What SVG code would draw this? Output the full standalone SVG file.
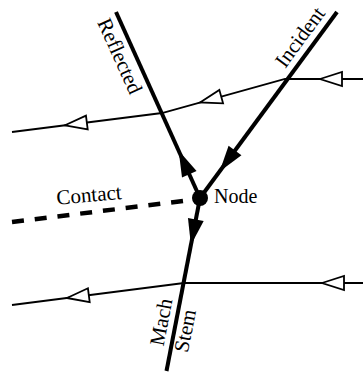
<svg xmlns="http://www.w3.org/2000/svg" width="363" height="373" viewBox="0 0 363 373">
<style>
  .flow { fill: none; stroke: #000; stroke-width: 1.8; stroke-linejoin: miter; }
  .shock { fill: none; stroke: #000; stroke-width: 4; stroke-linecap: butt; }
  .contact { fill: none; stroke: #000; stroke-width: 4.5; stroke-dasharray: 12 10.9; }
  .open { fill: #fff; stroke: #000; stroke-width: 1.8; stroke-linejoin: miter; }
  .solid { fill: #000; stroke: none; }
  .lbl { font-family: "Liberation Serif", "Times New Roman", serif; font-size: 21px; fill: #000; }
</style>
<defs>
  <path id="openArrow" d="M0,0 L22,-7 L22,7 Z"/>
  <path id="solidArrow" d="M0,0 L-26,-8 L-26,8 Z"/>
</defs>
<g id="connectors">
  <polyline class="flow" points="363,79 285,79 162,113 12,132"/>
  <polyline class="flow" points="363,283 184,283 12,305"/>
  <use href="#openArrow" class="open" transform="translate(320,79)"/>
  <use href="#openArrow" class="open" transform="translate(200,102.5) rotate(-15.5)"/>
  <use href="#openArrow" class="open" transform="translate(65,125.3) rotate(-7.2)"/>
  <use href="#openArrow" class="open" transform="translate(322,283)"/>
  <use href="#openArrow" class="open" transform="translate(67,298) rotate(-7.3)"/>
  <line id="reflected-shock" class="shock" x1="116" y1="12" x2="200" y2="198"/>
  <line id="incident-shock" class="shock" x1="337" y1="12" x2="200" y2="198"/>
  <line id="mach-stem" class="shock" x1="200" y1="198" x2="166.5" y2="371"/>
  <line id="contact-line" class="contact" x1="12" y1="222" x2="183" y2="201"/>
  <use href="#solidArrow" class="solid" transform="translate(178.6,150.6) rotate(-114.3)"/>
  <use href="#solidArrow" class="solid" transform="translate(219.6,171.4) rotate(126.4)"/>
  <use href="#solidArrow" class="solid" transform="translate(190.9,245.1) rotate(100.9)"/>
</g>
<g id="node">
  <circle cx="200" cy="198" r="8" fill="#000"/>
  <text class="lbl" x="214" y="203" style="font-size:20px">Node</text>
</g>
<g id="reflected">
  <text class="lbl" text-anchor="middle" transform="translate(113.6,59) rotate(65.7)">Reflected</text>
</g>
<g id="incident">
  <text class="lbl" text-anchor="middle" transform="translate(305.6,41.2) rotate(-53.6)">Incident</text>
</g>
<g id="contact">
  <text class="lbl" text-anchor="middle" transform="translate(89.5,201.8) rotate(-5)">Contact</text>
</g>
<g id="mach-stem-label">
  <text class="lbl" text-anchor="middle" transform="translate(167.9,323.3) rotate(-79.1)">Mach</text>
  <text class="lbl" text-anchor="middle" transform="translate(191.9,332.1) rotate(-79.1)">Stem</text>
</g>
</svg>
